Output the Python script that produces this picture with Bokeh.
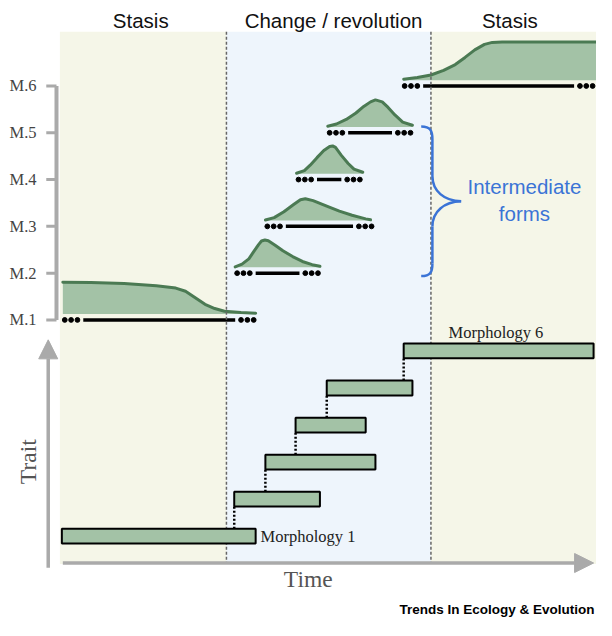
import numpy as np
from bokeh.plotting import figure
from bokeh.models import Range1d, Arrow, NormalHead
from bokeh.core.properties import value
from bokeh.embed import file_html
from bokeh.resources import INLINE

# ---------------- data ----------------
period_names = ["Stasis", "Change / revolution", "Stasis"]
period_edges = [-1, 170, 380, 550]          # time units
period_label_x = [82, 280, 461]

trait_levels = [1, 2, 3, 4, 5, 6]
trait_tick_labels = ["M.1", "M.2", "M.3", "M.4", "M.5", "M.6"]

# temporal range of each morphology (dotted range lines, top panel)
range_start = [2, 179, 210, 242, 274, 351]
range_end = [200, 266, 321, 309, 361, 548]

# distribution curves (time, density height)
dist_t = [
    [2, 31, 65, 98, 118, 128, 138, 148, 158, 168, 185, 200],
    [179, 186, 193, 198, 203, 206, 209.5, 213, 220, 228, 238, 248, 258, 266],
    [210, 219, 229, 239, 246, 251, 259, 273, 286, 299, 313, 318],
    [242, 250, 256, 263, 270, 276, 279, 282, 288, 295, 301, 310],
    [274, 283, 293, 303, 311, 318, 323, 330, 336, 343, 351, 361],
    [352, 366, 380, 393, 405, 415, 425, 435, 443, 453, 550],
]
dist_d = [
    [32.7, 32.4, 31.4, 29.0, 26.7, 23.4, 16.7, 10.0, 5.7, 3.0, 1.7, 1.0],
    [0.5, 3.3, 8.7, 16.0, 23.3, 27.0, 28.0, 27.3, 22.7, 17.0, 11.0, 6.0, 2.7, 1.0],
    [0.5, 3.0, 9.0, 16.4, 21.4, 22.4, 20.4, 14.7, 9.7, 5.4, 1.7, 0.7],
    [0.5, 3.2, 8.8, 16.5, 23.8, 28.0, 28.5, 27.0, 18.8, 10.5, 4.8, 1.5],
    [0.7, 3.0, 7.7, 14.3, 21.0, 25.7, 27.7, 25.7, 20.0, 12.3, 5.0, 1.7],
    [1.0, 2.7, 5.3, 10.0, 16.0, 23.3, 31.0, 36.7, 38.7, 39.0, 39.0],
]

# bottom panel: morphologies as bars
morph_levels = [1, 2, 3, 4, 5, 6]
bar_start = [1, 178, 210, 241, 273, 352]
bar_end = [200, 266, 323, 313, 361, 547]
morph_label_text = ["Morphology 1", "Morphology 6"]

# ---------------- style / layout ----------------
CREAM = "#f5f6e8"
BLUE_BG = "#eef5fc"
FILL_GREEN = "#a3c2a6"
LINE_GREEN = "#4b7a53"
AXIS_GRAY = "#aaaaaa"
BRACE_BLUE = "#3b74d6"
PX_PER_M = 48.0
GAP = 6.0

p = figure(width=596, height=620, x_range=Range1d(-62, 550),
           y_range=Range1d(-5.423, 7.827), output_backend="svg",
           toolbar_location=None, min_border=0, title=None,
           x_axis_location=None, y_axis_location=None,
           outline_line_color=None, background_fill_color="white",
           border_fill_color="white")
p.extra_y_ranges = {"trait": Range1d(-1.276, 15.46)}
p.xgrid.visible = False
p.ygrid.visible = False

# backgrounds
p.quad(left=period_edges[:-1], right=period_edges[1:], bottom=-4.215, top=7.16,
       fill_color=[CREAM, BLUE_BG, CREAM], line_color=None)

# period titles
p.text(x=period_label_x, y=[7.39] * 3, text=period_names,
       text_font=value("Liberation Sans"), text_font_size="20.5px",
       text_align="center", text_baseline="middle", text_color="#111111")

# distributions
for i, lev in enumerate(trait_levels):
    t = np.array(dist_t[i], dtype=float)
    d = np.array(dist_d[i], dtype=float)
    base = lev + GAP / PX_PER_M
    ys = base + d / PX_PER_M
    px = list(t) + [t[-1], t[0]]
    py = list(ys) + [base, base]
    p.patch(px, py, fill_color=FILL_GREEN, line_color=None)
    p.line(t, ys, line_color=LINE_GREEN, line_width=3, line_join="round",
           line_cap="round")
    s, e = range_start[i], range_end[i]
    p.segment(x0=[s + 21], y0=[lev], x1=[e - 21], y1=[lev],
              line_color="black", line_width=3.5)
    p.scatter(x=[s + 2, s + 8.5, s + 15, e - 15, e - 8.5, e - 2], y=[lev] * 6,
              size=4.8, marker="circle", color="black")

# period boundaries
p.segment(x0=period_edges[1:3], y0=[7.16, 7.16], x1=period_edges[1:3],
          y1=[-4.215, -4.215], line_color="#666666", line_width=1.5,
          line_dash="3 2")

# top trait axis (M levels)
p.segment(x0=[-4.5], y0=[trait_levels[0]], x1=[-4.5], y1=[trait_levels[-1]],
          line_color=AXIS_GRAY, line_width=4)
p.segment(x0=[-15] * 6, y0=trait_levels, x1=[-4.5] * 6, y1=trait_levels,
          line_color=AXIS_GRAY, line_width=3)
p.text(x=[-25] * 6, y=trait_levels, text=trait_tick_labels,
       text_font=value("Liberation Serif"), text_font_size="16.5px",
       text_align="right", text_baseline="middle", text_color="#444444")

# brace for intermediate forms
y_top, y_bot = 5.133, 1.9375
y_mid = (y_top + y_bot) / 2
x_end, x_sp, x_tip = 370, 381.5, 411
curl, neck = 0.265, 0.54
p.bezier(x0=[x_end, x_sp, x_end, x_sp],
         y0=[y_top, y_mid + neck, y_bot, y_mid - neck],
         x1=[x_sp, x_tip, x_sp, x_tip],
         y1=[y_top - curl, y_mid, y_bot + curl, y_mid],
         cx0=[x_sp - 2, x_sp, x_sp - 2, x_sp],
         cy0=[y_top, y_mid + 0.22, y_bot, y_mid - 0.22],
         cx1=[x_sp, x_sp + 12, x_sp, x_sp + 12],
         cy1=[y_top - 0.09, y_mid + 0.01, y_bot + 0.09, y_mid - 0.01],
         line_color=BRACE_BLUE, line_width=2.5)
p.segment(x0=[x_sp, x_sp], y0=[y_top - curl, y_mid - neck],
          x1=[x_sp, x_sp], y1=[y_mid + neck, y_bot + curl],
          line_color=BRACE_BLUE, line_width=2.5)
p.text(x=[476, 476], y=[3.848, 3.285], text=["Intermediate", "forms"],
       text_font=value("Liberation Sans"), text_font_size="20.5px",
       text_align="center", text_baseline="middle", text_color=BRACE_BLUE)

# bottom panel: bars
lv = np.array(morph_levels, dtype=float)
p.quad(left=bar_start, right=bar_end, bottom=lv - 0.2, top=lv + 0.2,
       fill_color=FILL_GREEN, line_color="black", line_width=2,
       y_range_name="trait")
p.segment(x0=bar_start[1:], y0=list(lv[:-1] + 0.2), x1=bar_start[1:],
          y1=list(lv[1:] - 0.2), line_color="black", line_width=2.5,
          line_dash="2 2", y_range_name="trait")
p.text(x=[bar_end[0] + 5, 398], y=[morph_levels[0], morph_levels[-1] + 0.49],
       text=morph_label_text, text_font=value("Liberation Serif"),
       text_font_size="16.5px", text_align="left", text_baseline="middle",
       text_color="#222222", y_range_name="trait")

# axes arrows
p.add_layout(Arrow(end=NormalHead(size=19, fill_color=AXIS_GRAY, line_color=AXIS_GRAY),
                   x_start=-13, y_start=0.145, x_end=-13, y_end=6.30,
                   line_color=AXIS_GRAY, line_width=3.5, y_range_name="trait"))
p.add_layout(Arrow(end=NormalHead(size=19, fill_color=AXIS_GRAY, line_color=AXIS_GRAY),
                   x_start=2, y_start=0.276, x_end=547, y_end=0.276,
                   line_color=AXIS_GRAY, line_width=3.5, y_range_name="trait"))
p.text(x=[254], y=[-0.145], text=["Time"], text_font=value("Liberation Serif"),
       text_font_size="23.5px", text_align="center", text_baseline="middle",
       text_color="#555555", y_range_name="trait")
p.text(x=[-34], y=[3.01], text=["Trait"], angle=np.pi / 2,
       text_font=value("Liberation Serif"), text_font_size="23.5px",
       text_align="center", text_baseline="middle", text_color="#555555",
       y_range_name="trait")

# source credit
p.text(x=[548], y=[-0.987], text=["Trends In Ecology & Evolution"],
       text_font=value("Liberation Sans"), text_font_size="13.5px",
       text_font_style="bold", text_align="right", text_baseline="middle",
       text_color="black", y_range_name="trait")

open("out.html", "w").write(file_html(p, INLINE))
